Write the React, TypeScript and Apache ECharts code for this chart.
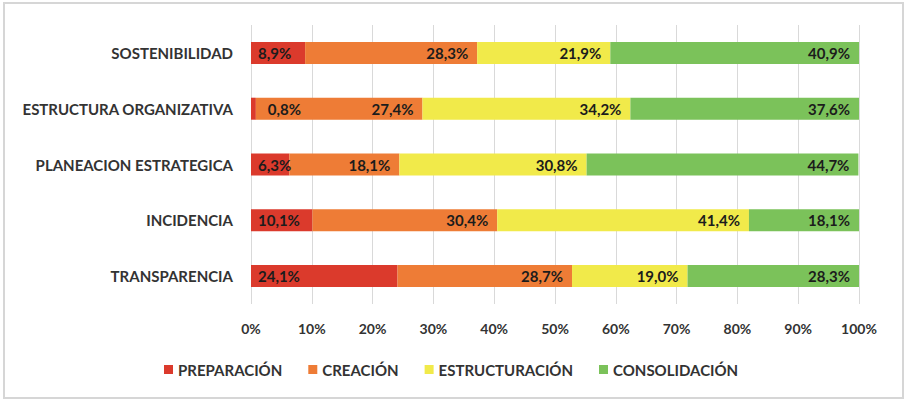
import React, { useEffect, useRef } from "react";
import * as echarts from "echarts";

const categories = [
  "SOSTENIBILIDAD",
  "ESTRUCTURA ORGANIZATIVA",
  "PLANEACION ESTRATEGICA",
  "INCIDENCIA",
  "TRANSPARENCIA",
];
const seriesNames = ["PREPARACIÓN", "CREACIÓN", "ESTRUCTURACIÓN", "CONSOLIDACIÓN"];
const preparacion = [8.9, 0.8, 6.3, 10.1, 24.1];
const creacion = [28.3, 27.4, 18.1, 30.4, 28.7];
const estructuracion = [21.9, 34.2, 30.8, 41.4, 19.0];
const consolidacion = [40.9, 37.6, 44.7, 18.1, 28.3];
const colors = ["#DB3A2C", "#EE7C36", "#F1EA4A", "#7BC25A"];

const FONT = "Lato";

export default function App() {
  const ref = useRef<HTMLDivElement>(null);
  useEffect(() => {
    if (!ref.current) return;
    const chart = echarts.init(ref.current, null, { renderer: "svg" });
    const fmt = (v: number) => v.toFixed(1).replace(".", ",") + "%";
    const allData = [preparacion, creacion, estructuracion, consolidacion];
    const series = allData.map((arr, si) => ({
      name: seriesNames[si],
      type: "bar",
      stack: "total",
      barWidth: 22,
      itemStyle: { color: colors[si] },
      label: {
        show: true,
        position: si === 0 ? "insideLeft" : "insideRight",
        distance: si === 0 ? 7 : 9,
        color: "#1c1c1c",
        fontFamily: FONT,
        fontWeight: "bold",
        fontSize: 15,
        formatter: (p: any) => fmt(p.value),
      },
      data: arr.map((v) =>
        v < 2 ? { value: v, label: { position: "right", distance: 12 } } : v
      ),
    }));
    chart.setOption({
      animation: false,
      backgroundColor: "#ffffff",
      grid: { left: 251, right: 48, top: 25, bottom: 97, containLabel: false },
      legend: {
        left: 159,
        top: 357,
        icon: "rect",
        itemWidth: 9,
        itemHeight: 9,
        itemGap: 26,
        textStyle: { fontFamily: FONT, fontWeight: "bold", fontSize: 15, color: "#333" },
        data: seriesNames,
      },
      xAxis: {
        type: "value",
        min: 0,
        max: 100,
        interval: 10,
        axisLine: { show: false },
        axisTick: { show: false },
        splitLine: { show: true, lineStyle: { color: "#d9d9d9", width: 1 } },
        axisLabel: {
          margin: 17,
          formatter: "{value}%",
          fontFamily: FONT,
          fontWeight: "bold",
          fontSize: 14,
          color: "#333",
        },
      },
      yAxis: {
        type: "category",
        inverse: true,
        data: categories,
        axisLine: { show: false },
        axisTick: { show: false },
        axisLabel: {
          margin: 18,
          fontFamily: FONT,
          fontWeight: "bold",
          fontSize: 15,
          color: "#333",
        },
      },
      graphic: [
        {
          type: "rect",
          shape: { x: 4, y: 3, width: 899, height: 395 },
          style: { fill: "none", stroke: "#d6d6d6", lineWidth: 2 },
          silent: true,
        },
      ],
      series,
    });
    return () => chart.dispose();
  }, []);
  return (
    <div
      ref={ref}
      style={{ position: "fixed", left: 0, top: 0, width: 907, height: 401 }}
    />
  );
}
